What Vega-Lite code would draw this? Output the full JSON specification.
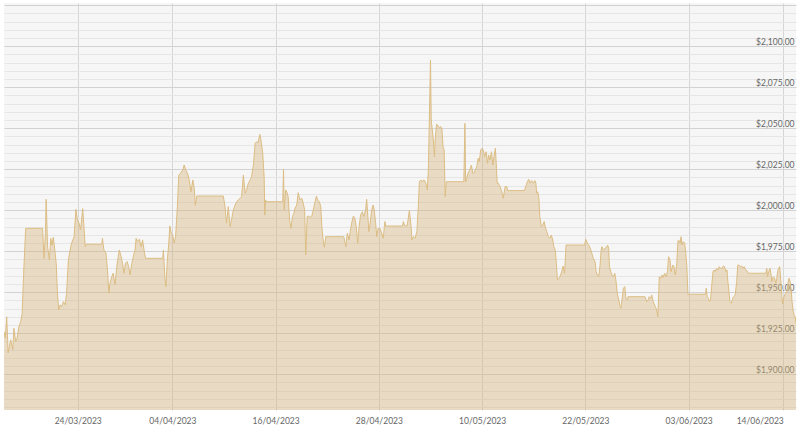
{
  "$schema": "https://vega.github.io/schema/vega-lite/v6.json",
  "width": 792,
  "height": 407,
  "autosize": {"type": "none"},
  "padding": {"left": 4, "top": 3, "right": 4, "bottom": 20},
  "background": "#ffffff",
  "config": {"view": {"fill": "#f6f6f6", "stroke": null}},
  "data": {"values": [
    {"t":"2023-03-15T10:30","p":1926},{"t":"2023-03-15T14:00","p":1922},{"t":"2023-03-15T18:00","p":1935},{"t":"2023-03-15T22:00","p":1913},
    {"t":"2023-03-16T05:00","p":1921},{"t":"2023-03-16T11:00","p":1915},{"t":"2023-03-16T14:00","p":1928},{"t":"2023-03-16T19:00","p":1920},{"t":"2023-03-16T23:00","p":1922},
    {"t":"2023-03-17T04:00","p":1929},{"t":"2023-03-17T09:00","p":1932},{"t":"2023-03-17T13:00","p":1937},{"t":"2023-03-17T18:00","p":1965.6},{"t":"2023-03-17T23:00","p":1989},
    {"t":"2023-03-19T22:00","p":1989},
    {"t":"2023-03-20T02:00","p":1970.7},{"t":"2023-03-20T06:00","p":1986},{"t":"2023-03-20T08:00","p":2006.7},{"t":"2023-03-20T12:00","p":1977.8},{"t":"2023-03-20T17:00","p":1969.7},{"t":"2023-03-20T21:00","p":1982.9},
    {"t":"2023-03-21T00:00","p":1978.8},{"t":"2023-03-21T04:00","p":1983.5},{"t":"2023-03-21T08:00","p":1975.8},{"t":"2023-03-21T12:00","p":1967.7},{"t":"2023-03-21T15:00","p":1951.4},{"t":"2023-03-21T19:00","p":1939.2},{"t":"2023-03-21T23:00","p":1942.3},
    {"t":"2023-03-22T03:00","p":1941.2},{"t":"2023-03-22T08:00","p":1944.3},{"t":"2023-03-22T13:00","p":1942.3},{"t":"2023-03-22T17:00","p":1949.4},{"t":"2023-03-22T22:00","p":1969.7},
    {"t":"2023-03-23T03:00","p":1975.8},{"t":"2023-03-23T07:00","p":1979.9},{"t":"2023-03-23T14:00","p":1983.9},{"t":"2023-03-23T19:00","p":2000.6},{"t":"2023-03-23T23:00","p":1994.1},
    {"t":"2023-03-24T04:00","p":1992.1},{"t":"2023-03-24T08:00","p":1988},{"t":"2023-03-24T14:00","p":2001},{"t":"2023-03-24T18:00","p":1988},{"t":"2023-03-24T21:00","p":1977.8},
    {"t":"2023-03-25T00:00","p":1979.3},{"t":"2023-03-26T19:00","p":1979.3},{"t":"2023-03-26T21:00","p":1982.9},
    {"t":"2023-03-27T01:00","p":1975.8},{"t":"2023-03-27T07:00","p":1973.8},{"t":"2023-03-27T11:00","p":1963.6},{"t":"2023-03-27T15:00","p":1949.4},{"t":"2023-03-27T18:00","p":1955.5},{"t":"2023-03-27T23:00","p":1959.5},
    {"t":"2023-03-28T03:00","p":1961.6},{"t":"2023-03-28T08:00","p":1954.5},{"t":"2023-03-28T13:00","p":1965.6},{"t":"2023-03-28T17:00","p":1971.7},{"t":"2023-03-28T20:00","p":1975.8},
    {"t":"2023-03-29T01:00","p":1971.7},{"t":"2023-03-29T05:00","p":1967.7},{"t":"2023-03-29T09:00","p":1961.6},{"t":"2023-03-29T13:00","p":1967.7},{"t":"2023-03-29T18:00","p":1968.7},{"t":"2023-03-29T22:00","p":1965.6},
    {"t":"2023-03-30T02:00","p":1960.5},{"t":"2023-03-30T07:00","p":1967.7},{"t":"2023-03-30T11:00","p":1971.7},{"t":"2023-03-30T16:00","p":1975.8},{"t":"2023-03-30T19:00","p":1982.9},{"t":"2023-03-30T22:00","p":1980.9},
    {"t":"2023-03-31T04:00","p":1982.3},{"t":"2023-03-31T09:00","p":1977.8},{"t":"2023-03-31T13:00","p":1981.9},{"t":"2023-03-31T17:00","p":1975.8},{"t":"2023-03-31T21:00","p":1970.7},
    {"t":"2023-04-02T21:00","p":1970.7},{"t":"2023-04-02T23:00","p":1975.8},
    {"t":"2023-04-03T03:00","p":1959.5},{"t":"2023-04-03T06:00","p":1953.4},{"t":"2023-04-03T10:00","p":1969.7},{"t":"2023-04-03T14:00","p":1979.9},{"t":"2023-04-03T17:00","p":1990.4},{"t":"2023-04-03T21:00","p":1986},
    {"t":"2023-04-04T01:00","p":1984.9},{"t":"2023-04-04T05:00","p":1979.9},{"t":"2023-04-04T09:00","p":1983.9},{"t":"2023-04-04T14:00","p":2002.2},{"t":"2023-04-04T18:00","p":2021.5},{"t":"2023-04-04T23:00","p":2022.6},
    {"t":"2023-04-05T05:00","p":2024.6},{"t":"2023-04-05T09:00","p":2027.6},{"t":"2023-04-05T14:00","p":2024.2},{"t":"2023-04-05T19:00","p":2022.1},{"t":"2023-04-05T23:00","p":2018.5},
    {"t":"2023-04-06T04:00","p":2011.3},{"t":"2023-04-06T09:00","p":2018.5},{"t":"2023-04-06T13:00","p":2013.4},{"t":"2023-04-06T16:00","p":2003},{"t":"2023-04-06T20:00","p":2008.7},
    {"t":"2023-04-09T22:00","p":2008.7},
    {"t":"2023-04-10T03:00","p":2002.2},{"t":"2023-04-10T07:00","p":1992.1},{"t":"2023-04-10T12:00","p":2002.2},{"t":"2023-04-10T17:00","p":1990},{"t":"2023-04-10T21:00","p":1994.1},
    {"t":"2023-04-11T02:00","p":2000.2},{"t":"2023-04-11T07:00","p":2003.2},{"t":"2023-04-11T11:00","p":2005.2},{"t":"2023-04-11T16:00","p":2006.3},{"t":"2023-04-11T21:00","p":2007.3},
    {"t":"2023-04-12T01:00","p":2008.3},{"t":"2023-04-12T06:00","p":2021.5},{"t":"2023-04-12T11:00","p":2010.4},{"t":"2023-04-12T15:00","p":2012.4},{"t":"2023-04-12T20:00","p":2016.5},
    {"t":"2023-04-13T01:00","p":2018.5},{"t":"2023-04-13T05:00","p":2020.5},{"t":"2023-04-13T10:00","p":2027.6},{"t":"2023-04-13T15:00","p":2040.9},{"t":"2023-04-13T19:00","p":2041.8},{"t":"2023-04-13T23:00","p":2041.2},
    {"t":"2023-04-14T04:00","p":2046.3},{"t":"2023-04-14T07:00","p":2042.9},{"t":"2023-04-14T12:00","p":2034.8},{"t":"2023-04-14T16:00","p":2020.5},{"t":"2023-04-14T18:00","p":1997.1},{"t":"2023-04-14T20:00","p":2006.3},{"t":"2023-04-14T22:00","p":2005.2},
    {"t":"2023-04-16T20:00","p":2005.2},{"t":"2023-04-16T22:00","p":2025},
    {"t":"2023-04-17T00:00","p":2000.2},{"t":"2023-04-17T04:00","p":2012.4},{"t":"2023-04-17T08:00","p":2010.7},{"t":"2023-04-17T11:00","p":2008.3},{"t":"2023-04-17T15:00","p":1994.1},{"t":"2023-04-17T19:00","p":1989},{"t":"2023-04-17T23:00","p":1996.1},
    {"t":"2023-04-18T03:00","p":1998.2},{"t":"2023-04-18T06:00","p":2001.2},{"t":"2023-04-18T11:00","p":2003.2},{"t":"2023-04-18T15:00","p":2010.7},{"t":"2023-04-18T20:00","p":2006.3},
    {"t":"2023-04-19T01:00","p":2007.3},{"t":"2023-04-19T05:00","p":2004.3},{"t":"2023-04-19T09:00","p":2000.2},{"t":"2023-04-19T12:00","p":1972.7},{"t":"2023-04-19T16:00","p":1996.1},{"t":"2023-04-19T19:00","p":1996.5},
    {"t":"2023-04-20T00:00","p":1995.7},{"t":"2023-04-20T05:00","p":1996.5},{"t":"2023-04-20T09:00","p":2000.2},{"t":"2023-04-20T14:00","p":2005.2},{"t":"2023-04-20T18:00","p":2008.7},{"t":"2023-04-20T21:00","p":2006.3},
    {"t":"2023-04-21T02:00","p":2005.2},{"t":"2023-04-21T06:00","p":2002.2},{"t":"2023-04-21T09:00","p":1990},{"t":"2023-04-21T12:00","p":1982.9},{"t":"2023-04-21T16:00","p":1977.4},{"t":"2023-04-21T20:00","p":1983.9},
    {"t":"2023-04-23T22:00","p":1983.9},
    {"t":"2023-04-24T04:00","p":1977.8},{"t":"2023-04-24T08:00","p":1986},{"t":"2023-04-24T13:00","p":1981.9},{"t":"2023-04-24T16:00","p":1987},{"t":"2023-04-24T20:00","p":1992.1},
    {"t":"2023-04-25T01:00","p":1996.5},{"t":"2023-04-25T05:00","p":1995.1},{"t":"2023-04-25T09:00","p":1990},{"t":"2023-04-25T13:00","p":1979.9},{"t":"2023-04-25T17:00","p":1990},{"t":"2023-04-25T21:00","p":1997.1},
    {"t":"2023-04-26T02:00","p":1999.1},{"t":"2023-04-26T06:00","p":1996.1},{"t":"2023-04-26T11:00","p":2000.2},{"t":"2023-04-26T14:00","p":2006.7},{"t":"2023-04-26T18:00","p":1994.1},{"t":"2023-04-26T20:00","p":1987},{"t":"2023-04-26T23:00","p":1991},
    {"t":"2023-04-27T04:00","p":2000.2},{"t":"2023-04-27T08:00","p":2003.2},{"t":"2023-04-27T11:00","p":2000.2},{"t":"2023-04-27T15:00","p":1992.1},{"t":"2023-04-27T18:00","p":1983.9},{"t":"2023-04-27T22:00","p":1989},
    {"t":"2023-04-28T03:00","p":1989},{"t":"2023-04-28T08:00","p":1986},{"t":"2023-04-28T12:00","p":1982.9},{"t":"2023-04-28T17:00","p":1993.1},{"t":"2023-04-28T19:00","p":1990.4},
    {"t":"2023-04-30T18:00","p":1990.4},{"t":"2023-04-30T20:00","p":1993.1},
    {"t":"2023-05-01T01:00","p":1990.4},{"t":"2023-05-01T07:00","p":1990.4},{"t":"2023-05-01T13:00","p":1999.8},{"t":"2023-05-01T18:00","p":1990},{"t":"2023-05-01T20:00","p":1981.9},
    {"t":"2023-05-02T00:00","p":1983.9},{"t":"2023-05-02T05:00","p":1982.9},{"t":"2023-05-02T10:00","p":1987},{"t":"2023-05-02T14:00","p":2002.2},{"t":"2023-05-02T17:00","p":2017.4},{"t":"2023-05-02T21:00","p":2018.5},
    {"t":"2023-05-03T00:00","p":2017.4},{"t":"2023-05-03T06:00","p":2018.5},{"t":"2023-05-03T11:00","p":2016.5},{"t":"2023-05-03T15:00","p":2012.4},{"t":"2023-05-03T18:00","p":2024.6},{"t":"2023-05-03T21:00","p":2057.1},
    {"t":"2023-05-04T00:00","p":2091.6},{"t":"2023-05-04T02:00","p":2055},{"t":"2023-05-04T05:00","p":2049},{"t":"2023-05-04T08:00","p":2042.9},{"t":"2023-05-04T11:00","p":2032.7},{"t":"2023-05-04T13:00","p":2042.9},{"t":"2023-05-04T17:00","p":2052.6},{"t":"2023-05-04T21:00","p":2051.4},
    {"t":"2023-05-05T01:00","p":2050.6},{"t":"2023-05-05T05:00","p":2051},{"t":"2023-05-05T08:00","p":2049},{"t":"2023-05-05T11:00","p":2038.8},{"t":"2023-05-05T14:00","p":2036.8},{"t":"2023-05-05T17:00","p":2008.3},{"t":"2023-05-05T20:00","p":2017.4},
    {"t":"2023-05-07T21:00","p":2017.4},
    {"t":"2023-05-08T00:00","p":2053},{"t":"2023-05-08T02:00","p":2017.4},{"t":"2023-05-08T05:00","p":2019.5},{"t":"2023-05-08T10:00","p":2023.5},{"t":"2023-05-08T14:00","p":2024.6},{"t":"2023-05-08T18:00","p":2027.6},{"t":"2023-05-08T22:00","p":2022.6},
    {"t":"2023-05-09T01:00","p":2022.6},{"t":"2023-05-09T05:00","p":2024.6},{"t":"2023-05-09T09:00","p":2026.6},{"t":"2023-05-09T13:00","p":2031.7},{"t":"2023-05-09T16:00","p":2029.6},{"t":"2023-05-09T20:00","p":2036.8},
    {"t":"2023-05-10T00:00","p":2037.8},{"t":"2023-05-10T03:00","p":2036.8},{"t":"2023-05-10T07:00","p":2032.7},{"t":"2023-05-10T11:00","p":2035.7},{"t":"2023-05-10T15:00","p":2028.7},{"t":"2023-05-10T18:00","p":2033.7},{"t":"2023-05-10T22:00","p":2030.7},
    {"t":"2023-05-11T02:00","p":2035.7},{"t":"2023-05-11T06:00","p":2027.6},{"t":"2023-05-11T09:00","p":2032.7},{"t":"2023-05-11T13:00","p":2037.8},{"t":"2023-05-11T16:00","p":2025.6},{"t":"2023-05-11T18:00","p":2016.4},{"t":"2023-05-11T21:00","p":2016.5},
    {"t":"2023-05-12T02:00","p":2014.4},{"t":"2023-05-12T07:00","p":2011.3},{"t":"2023-05-12T11:00","p":2007.3},{"t":"2023-05-12T16:00","p":2014.4},{"t":"2023-05-12T21:00","p":2014.4},{"t":"2023-05-12T23:00","p":2012},
    {"t":"2023-05-14T22:00","p":2012},
    {"t":"2023-05-15T06:00","p":2017.4},{"t":"2023-05-15T10:00","p":2018.9},{"t":"2023-05-15T13:00","p":2016.5},{"t":"2023-05-15T18:00","p":2018.1},{"t":"2023-05-15T23:00","p":2016.5},
    {"t":"2023-05-16T03:00","p":2018.1},{"t":"2023-05-16T06:00","p":2016.5},{"t":"2023-05-16T08:00","p":2010.4},{"t":"2023-05-16T11:00","p":2011.3},{"t":"2023-05-16T14:00","p":2008.3},{"t":"2023-05-16T17:00","p":1996.1},{"t":"2023-05-16T21:00","p":1990},
    {"t":"2023-05-17T01:00","p":1991},{"t":"2023-05-17T05:00","p":1993.1},{"t":"2023-05-17T08:00","p":1990},{"t":"2023-05-17T12:00","p":1987},{"t":"2023-05-17T17:00","p":1983.9},{"t":"2023-05-17T21:00","p":1982.9},
    {"t":"2023-05-18T01:00","p":1984.9},{"t":"2023-05-18T05:00","p":1981.9},{"t":"2023-05-18T08:00","p":1977.8},{"t":"2023-05-18T12:00","p":1975.8},{"t":"2023-05-18T15:00","p":1967.7},{"t":"2023-05-18T18:00","p":1957.5},{"t":"2023-05-18T22:00","p":1958.5},
    {"t":"2023-05-19T01:00","p":1959.5},{"t":"2023-05-19T06:00","p":1962.6},{"t":"2023-05-19T10:00","p":1966},{"t":"2023-05-19T14:00","p":1961.6},{"t":"2023-05-19T18:00","p":1978.8},
    {"t":"2023-05-21T22:00","p":1978.8},
    {"t":"2023-05-22T01:00","p":1982.3},{"t":"2023-05-22T05:00","p":1980.2},{"t":"2023-05-22T10:00","p":1978.5},{"t":"2023-05-22T15:00","p":1976},{"t":"2023-05-22T22:00","p":1970.7},
    {"t":"2023-05-23T03:00","p":1968.7},{"t":"2023-05-23T06:00","p":1962.6},{"t":"2023-05-23T09:00","p":1960.5},{"t":"2023-05-23T13:00","p":1959.5},{"t":"2023-05-23T17:00","p":1966.6},{"t":"2023-05-23T20:00","p":1975.8},{"t":"2023-05-23T22:00","p":1977.8},
    {"t":"2023-05-24T02:00","p":1975.8},{"t":"2023-05-24T07:00","p":1976.8},{"t":"2023-05-24T11:00","p":1977.4},{"t":"2023-05-24T14:00","p":1978.8},{"t":"2023-05-24T17:00","p":1976.8},{"t":"2023-05-24T19:00","p":1965.6},{"t":"2023-05-24T23:00","p":1962.6},
    {"t":"2023-05-25T02:00","p":1960.5},{"t":"2023-05-25T06:00","p":1959.5},{"t":"2023-05-25T10:00","p":1961.6},{"t":"2023-05-25T13:00","p":1957.5},{"t":"2023-05-25T17:00","p":1949.4},{"t":"2023-05-25T21:00","p":1945.3},
    {"t":"2023-05-26T01:00","p":1941.2},{"t":"2023-05-26T03:00","p":1940.2},{"t":"2023-05-26T06:00","p":1945.3},{"t":"2023-05-26T10:00","p":1952.4},{"t":"2023-05-26T14:00","p":1953.4},{"t":"2023-05-26T17:00","p":1946.3},{"t":"2023-05-26T21:00","p":1945.3},{"t":"2023-05-26T23:00","p":1947.3},
    {"t":"2023-05-28T22:00","p":1947.3},
    {"t":"2023-05-29T03:00","p":1944.3},{"t":"2023-05-29T07:00","p":1945.3},{"t":"2023-05-29T10:00","p":1947.3},{"t":"2023-05-29T14:00","p":1946.3},{"t":"2023-05-29T17:00","p":1948.4},{"t":"2023-05-29T20:00","p":1945.3},{"t":"2023-05-29T23:00","p":1943.3},
    {"t":"2023-05-30T03:00","p":1941.2},{"t":"2023-05-30T07:00","p":1939.2},{"t":"2023-05-30T10:00","p":1935.1},{"t":"2023-05-30T13:00","p":1951.4},{"t":"2023-05-30T14:00","p":1959.5},{"t":"2023-05-30T18:00","p":1958.5},{"t":"2023-05-30T22:00","p":1960.5},
    {"t":"2023-05-31T01:00","p":1959.1},{"t":"2023-05-31T05:00","p":1961.6},{"t":"2023-05-31T09:00","p":1959.5},{"t":"2023-05-31T13:00","p":1962.6},{"t":"2023-05-31T16:00","p":1971.7},{"t":"2023-05-31T20:00","p":1969.7},{"t":"2023-05-31T23:00","p":1962.6},
    {"t":"2023-06-01T04:00","p":1966.6},{"t":"2023-06-01T07:00","p":1965.6},{"t":"2023-06-01T11:00","p":1960.5},{"t":"2023-06-01T15:00","p":1967.7},{"t":"2023-06-01T18:00","p":1980.9},{"t":"2023-06-01T20:00","p":1981.9},
    {"t":"2023-06-02T00:00","p":1979.9},{"t":"2023-06-02T03:00","p":1983.9},{"t":"2023-06-02T05:00","p":1978.8},{"t":"2023-06-02T09:00","p":1980.9},{"t":"2023-06-02T13:00","p":1979.9},{"t":"2023-06-02T16:00","p":1973.8},{"t":"2023-06-02T19:00","p":1965.6},{"t":"2023-06-02T22:00","p":1948.8},
    {"t":"2023-06-04T23:00","p":1948.8},
    {"t":"2023-06-05T01:00","p":1952.4},{"t":"2023-06-05T04:00","p":1947.3},{"t":"2023-06-05T07:00","p":1946.3},{"t":"2023-06-05T10:00","p":1944.3},{"t":"2023-06-05T13:00","p":1945.3},{"t":"2023-06-05T17:00","p":1955.5},{"t":"2023-06-05T20:00","p":1962.6},{"t":"2023-06-05T23:00","p":1963.6},
    {"t":"2023-06-06T02:00","p":1962.6},{"t":"2023-06-06T06:00","p":1964.6},{"t":"2023-06-06T10:00","p":1963.6},{"t":"2023-06-06T13:00","p":1965.6},{"t":"2023-06-06T17:00","p":1964.6},{"t":"2023-06-06T21:00","p":1964.6},
    {"t":"2023-06-07T01:00","p":1966},{"t":"2023-06-07T04:00","p":1965.6},{"t":"2023-06-07T08:00","p":1962.6},{"t":"2023-06-07T11:00","p":1963.6},{"t":"2023-06-07T13:00","p":1957.5},{"t":"2023-06-07T16:00","p":1951.4},{"t":"2023-06-07T19:00","p":1944.3},{"t":"2023-06-07T23:00","p":1943.3},
    {"t":"2023-06-08T03:00","p":1946.3},{"t":"2023-06-08T06:00","p":1947.3},{"t":"2023-06-08T10:00","p":1948.4},{"t":"2023-06-08T14:00","p":1956.5},{"t":"2023-06-08T17:00","p":1966.6},{"t":"2023-06-08T20:00","p":1966.6},
    {"t":"2023-06-09T00:00","p":1965.6},{"t":"2023-06-09T04:00","p":1966},{"t":"2023-06-09T08:00","p":1964.6},{"t":"2023-06-09T11:00","p":1965.6},{"t":"2023-06-09T15:00","p":1963.6},{"t":"2023-06-09T19:00","p":1963},{"t":"2023-06-09T22:00","p":1961.6},
    {"t":"2023-06-11T23:00","p":1961.6},
    {"t":"2023-06-12T02:00","p":1964.6},{"t":"2023-06-12T04:00","p":1959.5},{"t":"2023-06-12T07:00","p":1962.6},{"t":"2023-06-12T11:00","p":1964.6},{"t":"2023-06-12T14:00","p":1960.5},{"t":"2023-06-12T16:00","p":1956.5},{"t":"2023-06-12T20:00","p":1959.5},
    {"t":"2023-06-13T00:00","p":1958.5},{"t":"2023-06-13T03:00","p":1955.5},{"t":"2023-06-13T06:00","p":1958.5},{"t":"2023-06-13T08:00","p":1962.6},{"t":"2023-06-13T11:00","p":1964.6},{"t":"2023-06-13T14:00","p":1965.6},{"t":"2023-06-13T17:00","p":1957.5},{"t":"2023-06-13T20:00","p":1947.3},{"t":"2023-06-13T22:00","p":1942.9},
    {"t":"2023-06-14T02:00","p":1947.3},{"t":"2023-06-14T06:00","p":1949.4},{"t":"2023-06-14T10:00","p":1950.4},{"t":"2023-06-14T13:00","p":1955.5},{"t":"2023-06-14T16:00","p":1958.5},{"t":"2023-06-14T19:00","p":1956.5},{"t":"2023-06-14T22:00","p":1951.4},
    {"t":"2023-06-15T00:00","p":1945.3},{"t":"2023-06-15T03:00","p":1939.2},{"t":"2023-06-15T06:00","p":1936.2},{"t":"2023-06-15T09:00","p":1935.1},{"t":"2023-06-15T11:26","p":1931.1}
  ]},
  "mark": {
    "type": "area",
    "clip": true,
    "fill": "#d6b67c",
    "fillOpacity": 0.42,
    "line": {"stroke": "#dcbd84", "strokeWidth": 1, "opacity": 1}
  },
  "encoding": {
    "x": {
      "field": "t",
      "type": "temporal",
      "scale": {"domain": [
        {"year": 2023, "month": 3, "date": 15, "hours": 10, "minutes": 26},
        {"year": 2023, "month": 6, "date": 15, "hours": 11, "minutes": 26}
      ]},
      "axis": {
        "title": null,
        "values": [
          {"year": 2023, "month": 3, "date": 24},
          {"year": 2023, "month": 4, "date": 4},
          {"year": 2023, "month": 4, "date": 16},
          {"year": 2023, "month": 4, "date": 28},
          {"year": 2023, "month": 5, "date": 10},
          {"year": 2023, "month": 5, "date": 22},
          {"year": 2023, "month": 6, "date": 3},
          {"year": 2023, "month": 6, "date": 14}
        ],
        "format": "%d/%m/%Y",
        "domain": false,
        "ticks": false,
        "tickSize": 0,
        "labelPadding": 6,
        "labelFlush": 15,
        "labelOverlap": false,
        "labelFont": "Lato",
        "labelFontSize": 8.5,
        "labelColor": "#666666",
        "grid": true,
        "gridColor": "#d6d6d6",
        "gridWidth": 1
      }
    },
    "y": {
      "field": "p",
      "type": "quantitative",
      "scale": {"domain": [1878.2, 2126.4], "zero": false, "nice": false},
      "axis": {
        "title": null,
        "orient": "right",
        "values": [1880,1885,1890,1895,1900,1905,1910,1915,1920,1925,1930,1935,1940,1945,1950,1955,1960,1965,1970,1975,1980,1985,1990,1995,2000,2005,2010,2015,2020,2025,2030,2035,2040,2045,2050,2055,2060,2065,2070,2075,2080,2085,2090,2095,2100,2105,2110,2115,2120,2125],
        "labelExpr": "datum.value % 25 === 0 && datum.value >= 1900 && datum.value <= 2100 ? format(datum.value, '$,.2f') : ''",
        "domain": false,
        "ticks": false,
        "tickSize": 0,
        "labelAlign": "right",
        "labelBaseline": "alphabetic",
        "labelOffset": -2,
        "labelPadding": -2,
        "labelFlush": false,
        "labelOverlap": false,
        "labelFont": "Lato",
        "labelFontSize": 8.5,
        "labelColor": "#666666",
        "grid": true,
        "gridColor": {"condition": {"test": "datum.value % 25 === 0", "value": "#d2d2d2"}, "value": "#e6e6e6"},
        "gridWidth": 1
      }
    }
  }
}
